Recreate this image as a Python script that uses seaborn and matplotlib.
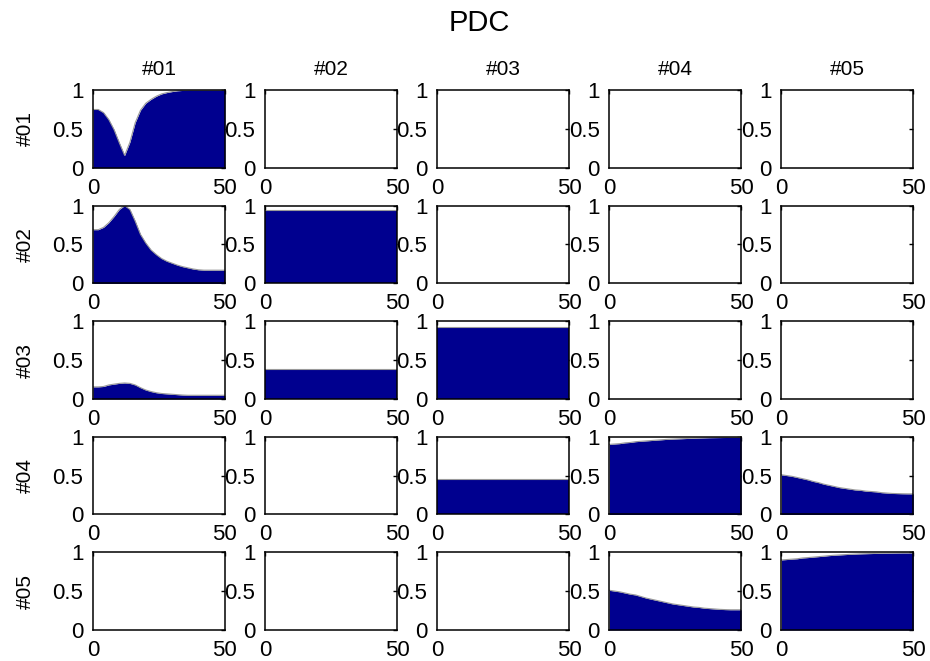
import numpy as np
import matplotlib
matplotlib.use("Agg")
import matplotlib.pyplot as plt
import seaborn as sns

# channel names, rows = "to", columns = "from"
channels = ["#01", "#02", "#03", "#04", "#05"]

# frequency grid (0..50, step 2) for the frequency dependent panels
freq = np.arange(0, 51, 2)

# values, one list per non-empty panel
pdc_1_1 = [0.75, 0.75, 0.71, 0.62, 0.49, 0.32, 0.16, 0.33, 0.58, 0.74, 0.83, 0.88, 0.92,
           0.95, 0.967, 0.98, 0.99, 0.995, 1.0, 1.0, 1.0, 1.0, 1.0, 1.0, 1.0, 1.0]
pdc_2_1 = [0.69, 0.69, 0.72, 0.78, 0.86, 0.95, 1.0, 0.95, 0.80, 0.63, 0.52, 0.43, 0.37,
           0.32, 0.285, 0.26, 0.235, 0.215, 0.20, 0.185, 0.175, 0.17, 0.17, 0.17, 0.17, 0.17]
pdc_3_1 = [0.155, 0.155, 0.16, 0.18, 0.19, 0.20, 0.205, 0.20, 0.18, 0.145, 0.115, 0.095, 0.08,
           0.07, 0.065, 0.06, 0.055, 0.05, 0.047, 0.047, 0.047, 0.047, 0.047, 0.047, 0.047, 0.047]
pdc_4_4 = [0.90, 0.905, 0.91, 0.92, 0.925, 0.935, 0.94, 0.945, 0.95, 0.955, 0.96, 0.965, 0.968,
           0.971, 0.974, 0.977, 0.98, 0.982, 0.984, 0.986, 0.987, 0.988, 0.989, 0.99, 0.99, 0.99]
pdc_4_5 = [0.51, 0.50, 0.49, 0.475, 0.46, 0.445, 0.425, 0.41, 0.39, 0.375, 0.36, 0.345, 0.335,
           0.325, 0.315, 0.31, 0.30, 0.295, 0.29, 0.28, 0.275, 0.27, 0.268, 0.266, 0.265, 0.265]
pdc_5_4 = [0.51, 0.50, 0.49, 0.475, 0.46, 0.45, 0.43, 0.41, 0.395, 0.38, 0.365, 0.35, 0.335,
           0.325, 0.315, 0.305, 0.295, 0.29, 0.28, 0.275, 0.27, 0.265, 0.262, 0.26, 0.26, 0.26]
pdc_5_5 = [0.90, 0.905, 0.91, 0.915, 0.925, 0.93, 0.936, 0.942, 0.948, 0.955, 0.96, 0.964, 0.968,
           0.972, 0.975, 0.978, 0.98, 0.982, 0.984, 0.986, 0.987, 0.988, 0.989, 0.99, 0.99, 0.99]

# flat panels (same value over the whole band)
freq_flat = [0, 50]
pdc_2_2 = [0.94, 0.94]
pdc_3_2 = [0.39, 0.39]
pdc_3_3 = [0.92, 0.92]
pdc_4_3 = [0.46, 0.46]

panels = {
    (0, 0): (freq, pdc_1_1),
    (1, 0): (freq, pdc_2_1),
    (1, 1): (freq_flat, pdc_2_2),
    (2, 0): (freq, pdc_3_1),
    (2, 1): (freq_flat, pdc_3_2),
    (2, 2): (freq_flat, pdc_3_3),
    (3, 2): (freq_flat, pdc_4_3),
    (3, 3): (freq, pdc_4_4),
    (3, 4): (freq, pdc_4_5),
    (4, 3): (freq, pdc_5_4),
    (4, 4): (freq, pdc_5_5),
}

fillColor = "#00008F"
edgeColor = "#9a9a9a"

sns.set_theme(style="white")
plt.rcParams["font.family"] = ["Liberation Sans", "DejaVu Sans"]
plt.rcParams["text.color"] = "black"
plt.rcParams["axes.labelcolor"] = "black"
plt.rcParams["xtick.color"] = "black"
plt.rcParams["ytick.color"] = "black"

fig, axes = plt.subplots(5, 5, figsize=(9.3, 6.61), dpi=100)
fig.subplots_adjust(left=0.100, right=0.982, top=0.8638, bottom=0.0469,
                    wspace=0.305, hspace=0.484)

for i in range(5):
    for j in range(5):
        ax = axes[i, j]
        if (i, j) in panels:
            fx, fy = panels[(i, j)]
            ax.fill_between(fx, fy, 0, color=fillColor, linewidth=0, antialiased=False)
            sns.lineplot(x=fx, y=fy, ax=ax, color=edgeColor, linewidth=0.8,
                         sort=False, legend=False)
        ax.set_xlim(0, 50)
        ax.set_ylim(0, 1)
        ax.set_xticks([0, 50])
        ax.set_xticklabels(["0", "50"])
        ax.set_yticks([0, 0.5, 1])
        ax.set_yticklabels(["0", "0.5", "1"])
        ax.tick_params(direction="in", length=3, width=1, top=True, right=True,
                       labelsize=16, color="black", labelcolor="black")
        ax.tick_params(axis="x", pad=7)
        ax.tick_params(axis="y", pad=7)
        for sp in ax.spines.values():
            sp.set_color("black")
            sp.set_linewidth(1.1)
        ax.set_xlabel("")
        ax.set_ylabel("")
        if i == 0:
            ax.set_title(channels[j], fontsize=15, pad=11, color="black")
        if j == 0:
            ax.set_ylabel(channels[i], fontsize=15, color="black")
            ax.yaxis.set_label_coords(-0.44, 0.5)

fig.text(0.515, 0.965, "PDC", ha="center", va="center", fontsize=21, color="black")

fig.savefig("out.png", dpi=100, facecolor="white")
